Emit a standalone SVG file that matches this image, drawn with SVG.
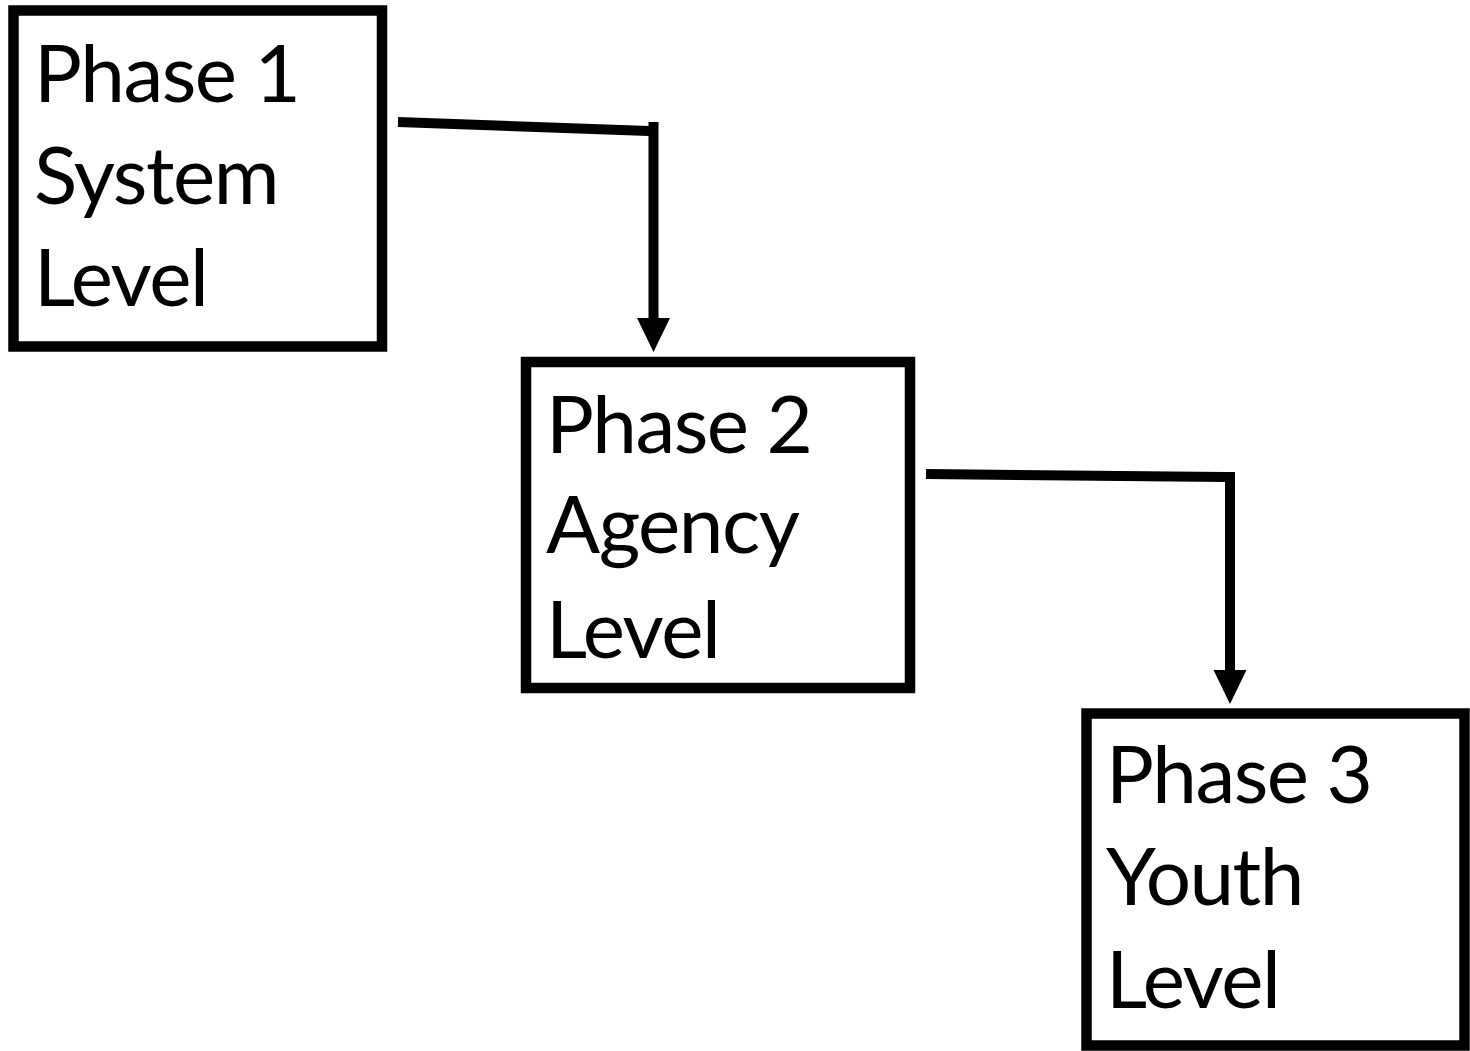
<svg xmlns="http://www.w3.org/2000/svg" width="1470" height="1051" viewBox="0 0 1470 1051">
<style>
.box{fill:#fff;stroke:#000;stroke-width:10.5}
.lbl{font-family:Lato,"Open Sans","Liberation Sans",sans-serif;font-size:80px;letter-spacing:-1.5px;fill:#000}
.conn{fill:none;stroke:#000;stroke-width:10}
</style>
<defs>
<marker id="ah" markerUnits="userSpaceOnUse" markerWidth="34" markerHeight="34" viewBox="0 -17 34 34" refX="0" refY="0" orient="auto">
<path d="M0,-16.5 L34,0 L0,16.5 z" fill="#000"/>
</marker>
</defs>
<rect width="1470" height="1051" fill="#fff"/>
<g id="connectors">
<path class="conn" d="M398,122 L649,131 M653.5,122 L653.5,318" marker-end="url(#ah)"/>
<path class="conn" d="M926,474 L1226,477 M1230,472 L1230,670" marker-end="url(#ah)"/>
</g>
<g id="phase1">
<rect class="box" x="13.5" y="10.5" width="368.5" height="336"/>
<text class="lbl"><tspan x="34" y="102">Phase 1</tspan><tspan x="34" y="204">System</tspan><tspan x="34" y="306">Level</tspan></text>
</g>
<g id="phase2">
<rect class="box" x="526" y="362" width="384" height="326"/>
<text class="lbl"><tspan x="546" y="453">Phase 2</tspan><tspan x="546" y="553">Agency</tspan><tspan x="546" y="658">Level</tspan></text>
</g>
<g id="phase3">
<rect class="box" x="1086.5" y="713.5" width="378" height="332"/>
<text class="lbl"><tspan x="1106" y="803">Phase 3</tspan><tspan x="1106" y="905">Youth</tspan><tspan x="1106" y="1008">Level</tspan></text>
</g>
</svg>
